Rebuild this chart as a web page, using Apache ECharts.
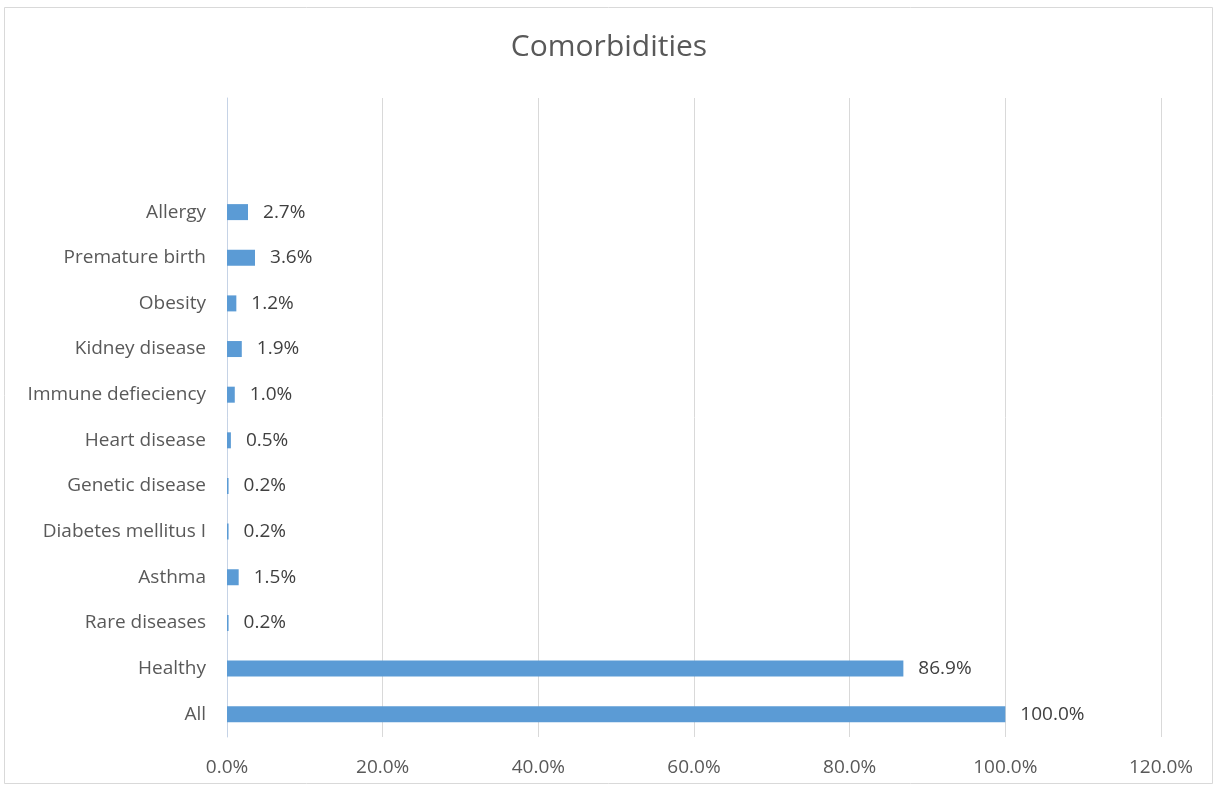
<!DOCTYPE html>
<html>
<head>
<meta charset="utf-8">
<script src="https://cdn.jsdelivr.net/npm/echarts@6/dist/echarts.min.js"></script>
<style>
  html, body { margin: 0; padding: 0; background: #fff; }
  #chart { width: 1218px; height: 791px; }
</style>
</head>
<body>
<div id="chart"></div>
<script>
// categories bottom -> top, two empty slots left at the top like the original
const categories = ['All', 'Healthy', 'Rare diseases', 'Asthma', 'Diabetes mellitus I',
    'Genetic disease', 'Heart disease', 'Immune defieciency', 'Kidney disease',
    'Obesity', 'Premature birth', 'Allergy', ' ', '  '];
const shares = [100.0, 86.9, 0.2, 1.5, 0.2, 0.2, 0.5, 1.0, 1.9, 1.2, 3.6, 2.7, null, null];
const xTicks = [0, 20, 40, 60, 80, 100, 120];

const font = '"Open Sans", "Liberation Sans", sans-serif';
const myChart = echarts.init(document.getElementById('chart'));

const option = {
    animation: false,
    backgroundColor: '#fff',
    title: {
        text: 'Comorbidities',
        left: 'center',
        top: 27,
        textStyle: { fontFamily: font, fontSize: 30, fontWeight: 'normal', color: '#595959' }
    },
    graphic: [{
        type: 'rect',
        shape: { x: 4.5, y: 7.5, width: 1208, height: 776 },
        style: { fill: 'none', stroke: '#d9d9d9', lineWidth: 1 },
        silent: true
    }],
    grid: { left: 227, right: 57, top: 98, bottom: 54, containLabel: false },
    xAxis: {
        type: 'value',
        min: xTicks[0],
        max: xTicks[xTicks.length - 1],
        interval: 20,
        axisLine: { show: false },
        axisTick: { show: false },
        splitLine: { lineStyle: { color: '#d9d9d9', width: 1 } },
        axisLabel: {
            margin: 21,
            fontFamily: font, fontSize: 19, color: '#595959',
            formatter: v => v.toFixed(1) + '%'
        }
    },
    yAxis: {
        type: 'category',
        data: categories,
        axisLine: { show: true, lineStyle: { color: '#c6d3e6', width: 1 } },
        axisTick: { show: false },
        axisLabel: { margin: 21, fontFamily: font, fontSize: 19, color: '#595959' }
    },
    series: [{
        type: 'bar',
        data: shares,
        barWidth: 16,
        itemStyle: { color: '#5b9bd5' },
        label: {
            show: true,
            position: 'right',
            distance: 15,
            fontFamily: font, fontSize: 19, color: '#404040',
            formatter: p => p.value == null ? '' : p.value.toFixed(1) + '%'
        }
    }]
};

myChart.setOption(option);
</script>
</body>
</html>
